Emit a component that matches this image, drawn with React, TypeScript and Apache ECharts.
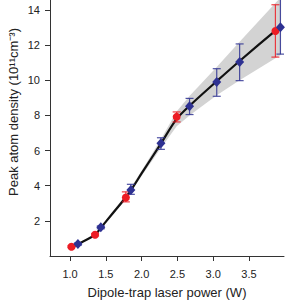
import React, { useEffect, useRef } from "react";
import * as echarts from "echarts";

// Measured data (power in W, density in 1e11 cm^-3)
const redX = [1.02, 1.35, 1.78, 2.49, 3.87];
const redY = [0.53, 1.21, 3.33, 7.92, 12.81];
const redLow = [0.48, 1.15, 3.08, 7.63, 11.32];
const redHigh = [0.58, 1.27, 3.65, 8.2, 14.3];

const blueX = [1.11, 1.43, 1.85, 2.27, 2.67, 3.05, 3.37, 3.94];
const blueY = [0.68, 1.63, 3.76, 6.41, 8.52, 9.9, 11.04, 13.02];
const blueLow = [0.62, 1.55, 3.51, 6.07, 8.05, 9.09, 9.98, 11.49];
const blueHigh = [0.74, 1.71, 4.08, 6.73, 8.97, 10.66, 12.07, 14.9];

// Fit curve and its confidence band
const fitX = [1.03, 1.11, 1.35, 1.43, 1.6, 1.81, 2.0, 2.27, 2.49, 2.67, 3.05, 3.37, 3.95];
const fitY = [0.5, 0.68, 1.2, 1.6, 2.45, 3.5, 4.7, 6.4, 7.8, 8.55, 9.95, 11.1, 13.1];

const bandX = [1.5, 1.8, 2.0, 2.27, 2.49, 2.67, 3.05, 3.37, 3.95];
const bandLow = [1.85, 3.33, 4.55, 6.15, 7.38, 8.0, 9.15, 10.0, 11.45];
const bandHigh = [2.05, 3.57, 4.85, 6.65, 8.22, 9.1, 10.75, 12.2, 14.75];

const xTicks = [1.0, 1.5, 2.0, 2.5, 3.0, 3.5];
const yTicks = [2, 4, 6, 8, 10, 12, 14];

const RED = "#ec1c24";
const BLUE = "#2e3192";

function errorSeries(xs: number[], lo: number[], hi: number[], color: string) {
  return {
    type: "custom",
    clip: true,
    z: 3,
    data: xs.map((x, i) => [x, lo[i], hi[i]]),
    encode: { x: 0, y: [1, 2] },
    renderItem: (params: any, api: any) => {
      const x = api.value(0);
      const a = api.coord([x, api.value(1)]);
      const b = api.coord([x, api.value(2)]);
      const w = 4;
      const style = { stroke: color, lineWidth: 1.2, opacity: 0.85 };
      return {
        type: "group",
        children: [
          { type: "line", shape: { x1: a[0], y1: a[1], x2: b[0], y2: b[1] }, style },
          { type: "line", shape: { x1: a[0] - w, y1: a[1], x2: a[0] + w, y2: a[1] }, style },
          { type: "line", shape: { x1: b[0] - w, y1: b[1], x2: b[0] + w, y2: b[1] }, style },
        ],
      };
    },
  };
}

export default function App() {
  const ref = useRef<HTMLDivElement>(null);
  useEffect(() => {
    if (!ref.current) return;
    const chart = echarts.init(ref.current, null, { renderer: "svg" });
    const font = "'Liberation Sans', Arial, Helvetica, sans-serif";
    chart.setOption({
      animation: false,
      textStyle: { fontFamily: font },
      grid: { left: 50, right: 1, top: 0, bottom: 47, containLabel: false },
      xAxis: {
        type: "value",
        min: 0.72,
        max: 3.99,
        name: "Dipole-trap laser power (W)",
        nameLocation: "middle",
        nameGap: 30,
        nameTextStyle: { fontSize: 13, color: "#222", fontFamily: font },
        axisLine: { show: true, lineStyle: { color: "#333", width: 1 } },
        axisTick: { show: true, length: 5, customValues: xTicks, lineStyle: { color: "#333" } },
        axisLabel: {
          customValues: xTicks,
          formatter: (v: number) => v.toFixed(1),
          fontSize: 11,
          color: "#222",
          margin: 12,
          fontFamily: font,
        },
        splitLine: { show: false },
      },
      yAxis: {
        type: "value",
        min: 0,
        max: 14.57,
        axisLine: { show: true, lineStyle: { color: "#333", width: 1 } },
        axisTick: { show: true, length: 5, customValues: yTicks, lineStyle: { color: "#333" } },
        axisLabel: {
          customValues: yTicks,
          fontSize: 11,
          color: "#222",
          margin: 10,
          fontFamily: font,
        },
        splitLine: { show: false },
      },
      graphic: [
        {
          type: "text",
          x: 13,
          y: 112,
          rotation: Math.PI / 2,
          style: {
            text: "Peak atom density (10¹¹cm⁻³)",
            fontSize: 13,
            fill: "#222",
            fontFamily: font,
            textAlign: "center",
            textVerticalAlign: "middle",
          },
        },
      ],
      series: [
        {
          type: "custom",
          clip: true,
          z: 1,
          silent: true,
          data: bandX.map((x, i) => [x, bandLow[i], bandHigh[i]]),
          encode: { x: 0, y: [1, 2] },
          renderItem: (params: any, api: any) => {
            if (params.dataIndex !== 0) return null;
            const pts: number[][] = [];
            for (let i = 0; i < bandX.length; i++) pts.push(api.coord([bandX[i], bandHigh[i]]));
            for (let i = bandX.length - 1; i >= 0; i--) pts.push(api.coord([bandX[i], bandLow[i]]));
            return {
              type: "polygon",
              shape: { points: pts },
              style: { fill: "#d3d3d3", stroke: "none" },
            };
          },
        },
        {
          type: "line",
          z: 2,
          data: fitX.map((x, i) => [x, fitY[i]]),
          smooth: 0.3,
          showSymbol: false,
          symbol: "none",
          lineStyle: { color: "#111", width: 2.2 },
        },
        errorSeries(redX, redLow, redHigh, RED),
        errorSeries(blueX, blueLow, blueHigh, BLUE),
        {
          type: "scatter",
          z: 4,
          data: redX.map((x, i) => [x, redY[i]]),
          symbol: "circle",
          symbolSize: 8,
          itemStyle: { color: RED, opacity: 1 },
        },
        {
          type: "scatter",
          z: 5,
          data: blueX.map((x, i) => [x, blueY[i]]),
          symbol: "diamond",
          symbolSize: [9, 10],
          itemStyle: { color: BLUE, opacity: 1 },
        },
      ],
    });
    return () => chart.dispose();
  }, []);
  return (
    <div
      ref={ref}
      style={{ position: "absolute", left: 0, top: 0, width: 285, height: 304 }}
    />
  );
}
